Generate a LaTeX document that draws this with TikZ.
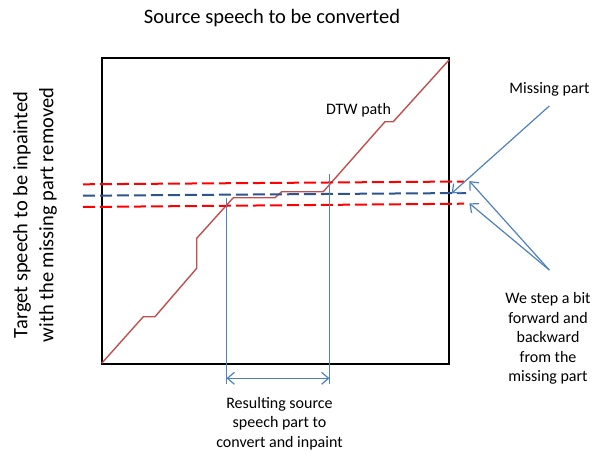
\documentclass[tikz,border=0pt]{standalone}
\usepackage{fontspec}
\setmainfont{Carlito}
\usetikzlibrary{arrows.meta}
\definecolor{pathred}{RGB}{192,80,77}
\definecolor{cutred}{RGB}{255,0,0}
\definecolor{gapblue}{RGB}{45,84,140}
\definecolor{lineblue}{RGB}{79,129,189}
\tikzset{
  big/.style={font=\fontsize{20.5}{26}\selectfont, align=center, inner sep=0pt},
  small/.style={font=\fontsize{16}{19.5}\selectfont, align=center, inner sep=0pt},
  cut/.style={cutred, line width=2pt, dash pattern=on 12pt off 5pt},
  gap/.style={gapblue, line width=2pt, dash pattern=on 12pt off 5pt},
  guide/.style={lineblue, line width=1.3pt},
  barb/.tip={Straight Barb[length=7pt,width=12pt]},
  pointer/.style={lineblue, line width=1.2pt, -barb},
}
\begin{document}
\begin{tikzpicture}[x=1pt,y=-1pt]
\useasboundingbox (0,0) rectangle (592,452);

% alignment grid frame
\draw[line width=2pt] (101.5,58.5) rectangle (449,363.5);

% axis captions
\node[big] (src) at (272,18) {Source speech to be converted};
\node[big, rotate=90] (tgt) at (35,215) {Target speech to be inpainted\\with the missing part removed};

% warping path
\draw[pathred, line width=1.4pt, line join=round]
  (101.7,363.3) -- (143.3,316.7) -- (155,316.7) -- (196.7,268.3) -- (196.7,238.3)
  -- (233.3,197.7) -- (275,197.7) -- (281.7,191.7) -- (323.3,191.7)
  -- (385,121.7) -- (393.3,121.7) -- (449,60);
\node[small] (dtw) at (358.5,110) {DTW path};

% missing part and the widened band around it
\coordinate (rtL) at (83,184.3);  \coordinate (rtR) at (464,181.5);
\coordinate (gL)  at (83,195.7);  \coordinate (gR)  at (466,193);
\coordinate (rbL) at (83,207);    \coordinate (rbR) at (464,203.7);
\draw[cut] (rtL) -- (rtR);
\draw[gap] (gL) -- (gR);
\draw[cut] (rbL) -- (rbR);

% source segment selected by the band
\coordinate (vaT) at (226.5,198);  \coordinate (vaB) at (226.5,384);
\coordinate (vbT) at (329.5,174);  \coordinate (vbB) at (329.5,384);
\draw[guide] (vaT) -- (vaB);
\draw[guide] (vbT) -- (vbB);
\coordinate (spanL) at (226.5,378.3);
\coordinate (spanR) at (329.5,378.3);
\draw[pointer, barb-barb] (spanL) -- (spanR);
\node[small] (res) at (279.5,423.5) {Resulting source\\speech part to\\convert and inpaint};

% annotations on the right
\node[small] (miss) at (549.5,89) {Missing part};
\coordinate (missFrom) at (549.3,106);
\coordinate (missTo) at (451.7,193.3);
\draw[pointer] (missFrom) -- (missTo);

\coordinate (stepFrom) at (549.3,270);
\coordinate (stepTop) at (469.3,181);
\coordinate (stepBot) at (469.3,203.3);
\draw[pointer] (stepFrom) -- (stepTop);
\draw[pointer] (stepFrom) -- (stepBot);
\node[small] (step) at (548,338.5) {We step a bit\\forward and\\backward\\from the\\missing part};
\end{tikzpicture}
\end{document}
